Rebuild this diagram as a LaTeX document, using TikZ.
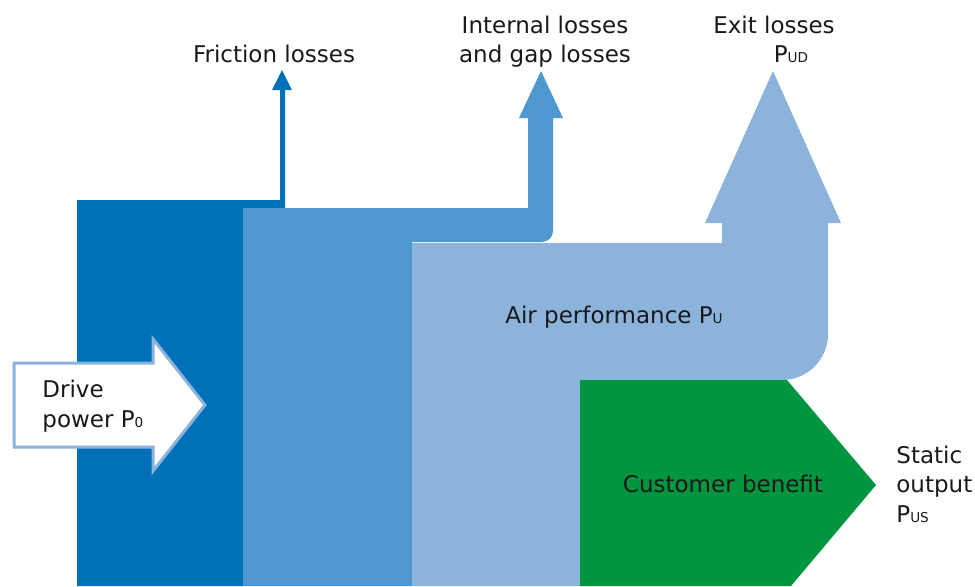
\documentclass[tikz,border=0pt]{standalone}
\usepackage{fontspec}
\setmainfont{DejaVu Sans}
\usepackage{tikz}
\usetikzlibrary{positioning}
\definecolor{blueDark}{RGB}{0,113,185}
\definecolor{blueMid}{RGB}{79,151,207}
\definecolor{blueLight}{RGB}{139,179,220}
\definecolor{greenBenefit}{RGB}{0,149,62}
\definecolor{textGrey}{RGB}{25,25,25}
\tikzstyle{flow} = [draw=none]
\tikzstyle{txt} = [text=textGrey, inner sep=0pt, anchor=base, font=\fontsize{11.5}{14.75}\selectfont]
\tikzstyle{txtleft} = [txt, anchor=base west]
\tikzstyle{inflow} = [draw=blueLight, line width=1.5pt, fill=white, line join=miter]
\newcommand{\idx}[1]{{\fontsize{6.8}{6.8}\selectfont #1}}

\begin{document}
\begin{tikzpicture}[x=0.5pt, y=-0.5pt]

	\useasboundingbox (0,0) rectangle (975,586);

	%% Flux
	\fill[flow, blueDark] (77,586) -- (77,200) -- (280,200) -- (280,90) -- (272,90) -- (282,70) -- (292,90) -- (285,90) -- (285,215) -- (243,215) -- (243,586) -- cycle;

	\fill[flow, blueMid] (243,586) -- (243,208) -- (528,208) -- (528,118) -- (519,118) -- (541,71) -- (563,118) -- (553,118) -- (553,231) .. controls (553,237) and (548,242) .. (542,242) -- (412,242) -- (412,586) -- cycle;

	\fill[flow, blueLight] (412,586) -- (412,243) -- (722,243) -- (722,223) -- (705,223) -- (773,71) -- (841,223) -- (828,223) -- (828,334) .. controls (828,359.4) and (807.4,380) .. (782,380) -- (580,380) -- (580,586) -- cycle;

	\fill[flow, greenBenefit] (580,586) -- (580,380) -- (787,380) -- (876,485) -- (791,586) -- cycle;

	%% Fleche d'entree
	\draw[inflow] (14,363) -- (153,363) -- (153,339) -- (205,405) -- (153,471) -- (153,447) -- (14,447) -- cycle;

	%% Textes
	\node[txt] (friction) at (274,62) {Friction losses};

	\node[txt] (internal) at (545,33) {Internal losses};
	\node[txt] (gap) at (545,62) {and gap losses};

	\node[txt] (exit) at (774,33) {Exit losses};
	\node[txt] (pud) at (791,62) {P\idx{UD}};

	\node[txt] (air) at (614,323) {Air performance P\idx{U}};

	\node[txtleft] (drive) at (42,397) {Drive};
	\node[txtleft] (power) at (42,427) {power P\idx{0}};

	\node[txt] (customer) at (723,492) {Customer benefit};

	\node[txtleft] (static) at (896,463) {Static};
	\node[txtleft] (output) at (896,492) {output};
	\node[txtleft] (pus) at (896,522) {P\idx{US}};

\end{tikzpicture}
\end{document}
